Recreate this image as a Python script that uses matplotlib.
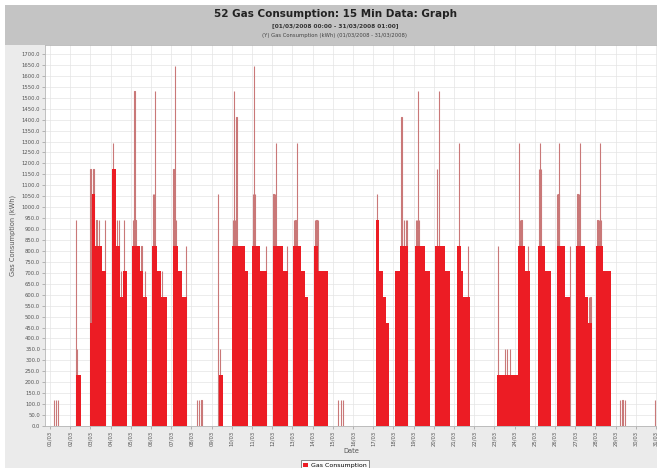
import matplotlib
matplotlib.use("Agg")
import matplotlib.pyplot as plt
from matplotlib.patches import Rectangle, Patch
import numpy as np

# ---------------- data ----------------
title = "52 Gas Consumption: 15 Min Data: Graph"
subtitle = "[01/03/2008 00:00 - 31/03/2008 01:00]"
subsubtitle = "(Y) Gas Consumption (kWh) (01/03/2008 - 31/03/2008)"
y_label = "Gas Consumption (kWh)"
x_label = "Date"
series_name = "Gas Consumption"

day_labels = ["%02d/03" % d for d in range(1, 32)]
y_ticks = list(range(0, 1701, 50))

# blocks of equal 15-min readings: day of March, start hour, end hour, kWh
seg_day = [2,
           3, 3, 3, 3,
           4, 4, 4, 4,
           5, 5, 5,
           6, 6, 6,
           7, 7, 7,
           9,
           10, 10,
           11, 11,
           12, 12,
           13, 13, 13,
           14, 14,
           17, 17, 17, 17,
           18, 18,
           19, 19,
           20, 20,
           21, 21, 21,
           23,
           24, 24, 24,
           25, 25,
           26, 26,
           27, 27, 27,
           28, 28]
seg_start_h = [6.9,
               0.0, 1.5, 5.0, 13.5,
               1.3, 6.4, 11.2, 15.1,
               1.1, 10.9, 14.9,
               0.8, 7.0, 11.5,
               1.8, 8.4, 12.5,
               8.9,
               0.8, 15.4,
               0.0, 9.3,
               1.1, 12.8,
               0.8, 10.8, 14.7,
               1.4, 6.5,
               3.9, 7.0, 11.8, 15.8,
               1.7, 7.6,
               1.4, 13.3,
               1.2, 13.1,
               3.0, 8.9, 10.5,
               3.2,
               0.0, 4.2, 12.1,
               3.9, 11.9,
               1.8, 11.6,
               1.5, 11.4, 15.3,
               1.3, 9.2]
seg_end_h = [12.5,
             1.5, 5.0, 13.5, 18.5,
             6.4, 11.2, 15.1, 19.9,
             10.9, 14.9, 18.9,
             7.0, 11.5, 18.6,
             8.4, 12.5, 18.4,
             13.7,
             15.4, 19.4,
             9.3, 17.9,
             12.8, 18.9,
             10.8, 14.7, 18.6,
             6.5, 18.4,
             7.0, 11.8, 15.8, 18.5,
             7.6, 17.5,
             13.3, 19.2,
             13.1, 19.0,
             8.9, 10.5, 18.8,
             24.0,
             4.2, 12.1, 18.1,
             11.9, 19.0,
             11.6, 17.6,
             11.4, 15.3, 19.4,
             9.2, 19.1]
seg_kwh = [235,
           470, 1058, 823, 706,
           1176, 823, 588, 706,
           823, 706, 588,
           823, 706, 588,
           823, 706, 588,
           235,
           823, 706,
           823, 706,
           823, 706,
           823, 706, 588,
           823, 706,
           941, 706, 588, 470,
           706, 823,
           823, 706,
           823, 706,
           823, 706, 588,
           235,
           235, 823, 706,
           823, 706,
           823, 588,
           823, 588, 470,
           823, 706]

# single 15-min readings (spikes): day of March, hour, kWh
spike_day = [1, 1, 1,
             2, 2,
             3, 3, 3, 3, 3, 3,
             4, 4, 4, 4, 4,
             5, 5, 5, 5, 5,
             6, 6, 6, 6,
             7, 7, 7, 7,
             8, 8, 8,
             9, 9,
             10, 10, 10, 10,
             11, 11, 11, 11,
             12, 12, 12, 12,
             13, 13, 13,
             14, 14, 14,
             15, 15, 15,
             17, 17,
             18, 18, 18, 18, 18,
             19, 19, 19, 19,
             20, 20,
             21, 21,
             23, 23, 23, 23,
             24, 24, 24, 24,
             25, 25, 25,
             26, 26, 26, 26,
             27, 27, 27, 27, 27,
             28, 28, 28, 28,
             29, 29, 29,
             30]
spike_hour = [4.75, 7.0, 9.5,
              6.9, 7.7,
              0.0, 0.8, 3.5, 7.0, 10.0, 17.3,
              3.0, 7.5, 9.5, 12.5, 16.2,
              4.2, 2.5, 5.5, 12.5, 16.9,
              4.75, 2.0, 3.5, 13.0,
              2.5, 4.5, 6.0, 17.2,
              6.1, 9.0, 12.0,
              7.7, 9.7,
              2.8, 5.5, 1.5, 4.0,
              2.1, 1.3, 3.5, 16.4,
              4.3, 1.5, 3.0, 17.3,
              4.9, 2.0, 3.5,
              2.5, 4.5, 6.0,
              6.3, 9.2, 12.2,
              4.6, 16.5,
              9.6, 10.5, 12.5, 14.5, 16.5,
              5.3, 2.5, 4.0, 6.5,
              3.6, 5.9,
              5.7, 16.8,
              4.4, 12.5, 15.0, 18.0,
              5.4, 6.5, 8.0, 16.0,
              5.9, 5.0, 7.0,
              4.9, 2.5, 4.0, 17.6,
              5.5, 2.5, 4.0, 16.5, 18.0,
              5.2, 2.5, 4.0, 6.5,
              5.0, 8.0, 10.9,
              22.8]
spike_kwh = [118, 118, 118,
             941, 353,
             1176, 1058, 1176, 941, 941, 941,
             1294, 941, 941, 706, 941,
             1529, 941, 941, 823, 706,
             1529, 1058, 1058, 706,
             1176, 1646, 941, 823,
             118, 118, 118,
             1058, 353,
             1529, 1411, 941, 941,
             1646, 1058, 1058, 823,
             1294, 1058, 1058, 823,
             1294, 941, 941,
             941, 941, 941,
             118, 118, 118,
             1058, 470,
             1411, 941, 941, 941, 941,
             1529, 941, 941, 941,
             1176, 1529,
             1294, 823,
             823, 353, 353, 353,
             1294, 941, 941, 823,
             1294, 1176, 1176,
             1294, 1058, 1058, 823,
             1294, 1058, 1058, 588, 588,
             1294, 941, 941, 941,
             118, 118, 118,
             118]

# ---------------- figure ----------------
W, H = 657, 468
fig = plt.figure(figsize=(W / 100, H / 100), dpi=100)
fig.patch.set_facecolor("#ebebeb")
fig.patches.append(Rectangle((0, 1 - 45 / H), 1, 40 / H, transform=fig.transFigure,
                             facecolor="#c4c4c4", edgecolor="none", zorder=0))
fig.patches.append(Rectangle((0, 1 - 5 / H), 1, 5 / H, transform=fig.transFigure,
                             facecolor="white", edgecolor="none", zorder=0))
fig.patches.append(Rectangle((0, 0), 5 / W, 1, transform=fig.transFigure,
                             facecolor="white", edgecolor="none", zorder=0))

ax = fig.add_axes([45 / W, 42 / H, 612 / W, 381 / H])
ax.set_facecolor("white")

red = "#ec1c24"
seg_x = np.array(seg_day) - 1 + np.array(seg_start_h) / 24.0
seg_w = (np.array(seg_end_h) - np.array(seg_start_h)) / 24.0
ax.bar(seg_x, seg_kwh, width=seg_w, align="edge", color=red, linewidth=0, zorder=3)

sp_x = np.array(spike_day) - 1 + np.array(spike_hour) / 24.0
ax.bar(sp_x, spike_kwh, width=0.25 / 24.0, align="edge", color=red,
       edgecolor="#c97878", linewidth=0.8, zorder=2)

ax.set_xlim(-0.2475, 30.05)
ax.set_ylim(0, 1741)
ax.set_xticks(range(31))
ax.set_xticklabels(day_labels, rotation=90, fontsize=3.8, color="#555555")
ax.set_yticks(y_ticks)
ax.set_yticklabels(["%.1f" % v for v in y_ticks], fontsize=3.8, color="#555555")
ax.tick_params(length=2, width=0.4, pad=1.5, colors="#888888", labelcolor="#555555")
ax.grid(True, color="#e4e4e4", linewidth=0.5, zorder=0)
ax.set_axisbelow(True)
for s in ax.spines.values():
    s.set_color("#b5b5b5")
    s.set_linewidth(0.6)

ax.set_ylabel(y_label, fontsize=4.8, color="#555555", labelpad=12)
ax.yaxis.set_label_coords(-0.048, 0.5)
fig.text(351 / W, 1 - 451 / H, x_label, ha="center", va="center", fontsize=4.8, color="#555555")

fig.text(335 / W, 1 - 14 / H, title, ha="center", va="center", fontsize=7.5,
         weight="bold", color="#222222")
fig.text(335 / W, 1 - 26 / H, subtitle, ha="center", va="center", fontsize=4.2,
         weight="bold", color="#333333")
fig.text(335 / W, 1 - 36 / H, subsubtitle, ha="center", va="center", fontsize=3.8,
         color="#444444")

leg = fig.legend([Patch(facecolor=red, edgecolor="none")], [series_name],
                 loc="upper center", bbox_to_anchor=(335 / W, 1 - 457 / H),
                 fontsize=4.5, frameon=True, fancybox=False, edgecolor="#555555",
                 borderpad=0.4, handlelength=0.8, handleheight=0.8,
                 handletextpad=0.4)
leg.get_frame().set_linewidth(0.6)

fig.savefig("out.png", dpi=100, facecolor=fig.get_facecolor())
